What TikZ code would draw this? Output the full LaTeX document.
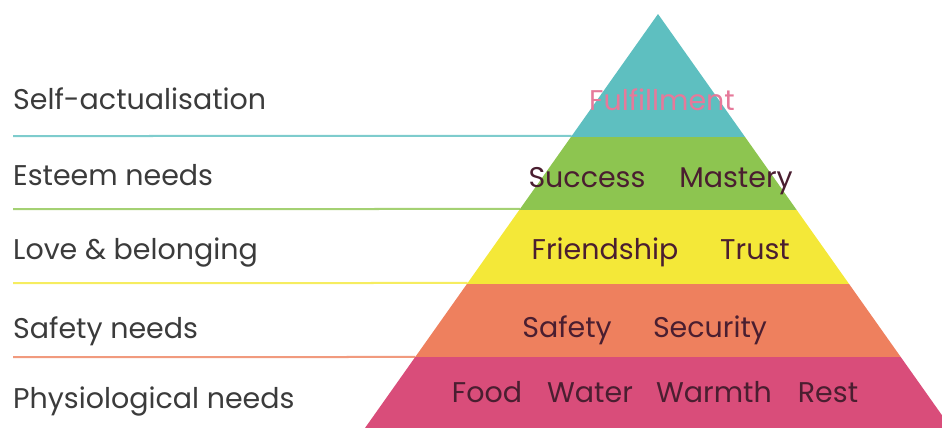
\documentclass[tikz,border=0pt]{standalone}
\usepackage{fontspec}
\setmainfont{Poppins}
\usetikzlibrary{calc}
\definecolor{selfcol}{HTML}{5EBFC0}
\definecolor{esteemcol}{HTML}{8DC550}
\definecolor{lovecol}{HTML}{F4E838}
\definecolor{safecol}{HTML}{EE805E}
\definecolor{physcol}{HTML}{D94D7A}
\definecolor{labelcol}{HTML}{3B3B3B}
\definecolor{wordcol}{HTML}{4A1E30}
\definecolor{fulfilcol}{HTML}{E6799A}
\begin{document}
\begin{tikzpicture}[x=1pt, y=-1pt,
		level/.style={anchor=base west, inner sep=0pt, font=\fontsize{28.5}{30}\selectfont, text=labelcol},
		need/.style={anchor=base, inner sep=0pt, font=\fontsize{28.5}{30}\selectfont, text=wordcol},
		rule/.style={line width=2pt}]
		\useasboundingbox (0,0) rectangle (942,428);
		\coordinate (apex) at (658,14);
		\coordinate (bl) at (365,428);
		\coordinate (br) at (951,428);
		% underlines of the levels
		\foreach \y/\c/\n in {136/selfcol/1, 209/esteemcol/2, 283/lovecol/3, 357/safecol/4}{
		  \coordinate (s\n) at (13,\y);
		  \coordinate (e\n) at ($(apex)!{(\y-14)/414}!(bl)$);
		  \draw[rule, \c!80] (s\n) -- (e\n);
		}
		% pyramid bands
		\begin{scope}
		  \clip (apex) -- (br) -- (bl) -- cycle;
		  \foreach \t/\b/\c in {14/137/selfcol, 137/210/esteemcol, 210/284/lovecol, 284/357/safecol, 357/428/physcol}{
		    \fill[\c] (300,\t) rectangle (1000,\b);
		  }
		\end{scope}
		% level names
		\node[level] (self) at (13,109) {Self-actualisation};
		\node[level] (esteem) at (13,185) {Esteem needs};
		\node[level] (love) at (13,259) {Love \& belonging};
		\node[level] (safety) at (13,338) {Safety needs};
		\node[level] (phys) at (13,408) {Physiological needs};
		% words in the pyramid
		\node[need, text=fulfilcol] (fulfil) at (662,110) {Fulfillment};
		\node[need] (success) at (587,187) {Success};
		\node[need] (mastery) at (736,187) {Mastery};
		\node[need] (friend) at (605,259) {Friendship};
		\node[need] (trust) at (755,259) {Trust};
		\node[need] (safe) at (567,337) {Safety};
		\node[need] (secur) at (710,337) {Security};
		\node[need] (food) at (487,402) {Food};
		\node[need] (water) at (590,402) {Water};
		\node[need] (warm) at (714,402) {Warmth};
		\node[need] (rest) at (828,402) {Rest};
	\end{tikzpicture}
\end{document}
